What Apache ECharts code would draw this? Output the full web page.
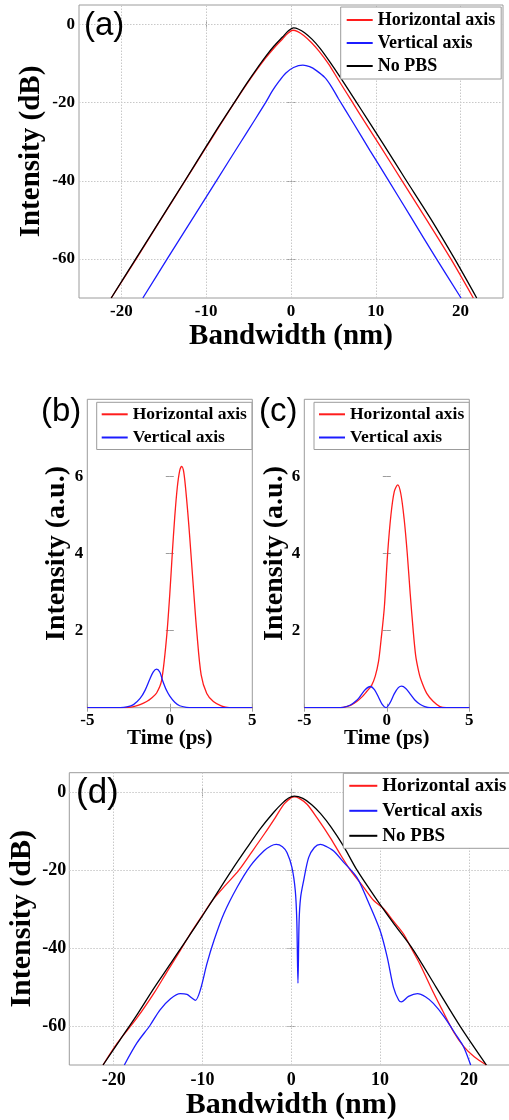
<!DOCTYPE html>
<html><head><meta charset="utf-8">
<script src="https://cdn.jsdelivr.net/npm/echarts@6/dist/echarts.min.js"></script>
<style>html,body{margin:0;padding:0;background:#fff}#c{width:509px;height:1120px}</style>
</head><body><div id="c"></div>
<script>
// ---------- data ----------
const seriesNames = ['Horizontal axis', 'Vertical axis', 'No PBS'];
const panelLabels = ['(a)', '(b)', '(c)', '(d)'];

// tick labels
const xTicksBW = [-20, -10, 0, 10, 20];
const yTicksDB = [-60, -40, -20, 0];
const xTicksT = [-5, 0, 5];
const yTicksI = [2, 4, 6];

// (a) spectra, dB vs nm
const aHX = [-21.2, -18.25, -15.5, -12.66, -10, -8.5, -6.73, -5.2, -4, -3, -2, -1, -0.4, 0.2, 0.8, 1.5, 2.4, 3.3, 4.4, 5.6, 7.07, 8.6, 10.6, 13.1, 16.0, 18.85, 21.5];
const aHY = [-70, -60, -50.4, -40.6, -31.4, -26.2, -20.2, -15.2, -11.5, -8.6, -6.0, -3.7, -2.3, -1.46, -1.8, -2.8, -4.6, -6.8, -10.0, -14.2, -19.3, -24.6, -31.4, -40, -50, -60, -70];
const aVX = [-17.47, -14.6, -11.7, -8.8, -5.9, -4.5, -3.0, -2.2, -1.4, -0.6, 0.3, 1.4, 2.2, 3.0, 4.0, 4.8, 5.6, 7.35, 9.3, 11.33, 14.2, 17.1, 20.05];
const aVY = [-70, -60, -50, -40, -30, -25.2, -20.0, -17.0, -14.5, -12.4, -11.0, -10.4, -10.8, -11.8, -13.6, -16.0, -19.0, -25.2, -32.2, -39.3, -49.5, -59.8, -70];
const aNX = [-21.2, -18.25, -15.5, -12.66, -10, -8.5, -6.73, -5.2, -4, -3, -2, -1, -0.3, 0.3, 0.9, 1.6, 2.5, 3.43, 4.5, 5.78, 7.54, 9.0, 11.0, 13.5, 16.5, 19.3, 21.9];
const aNY = [-70, -59.8, -50.3, -40.5, -31.2, -26.0, -20.1, -15.0, -11.2, -8.2, -5.5, -3.2, -1.6, -0.87, -1.2, -2.1, -3.8, -6.1, -9.3, -13.4, -19.3, -24.2, -31.0, -39.6, -49.8, -60, -70];

// (b) pulses, a.u. vs ps
const bHX = [-5, -3.0, -2.5, -2.2, -1.8, -1.4, -1.1, -0.8, -0.5, -0.2, 0.0, 0.15, 0.3, 0.45, 0.6, 0.72, 0.85, 1.0, 1.15, 1.28, 1.45, 1.63, 1.9, 2.24, 2.64, 3.15, 3.6, 5];
const bHY = [0, 0, 0.01, 0.03, 0.08, 0.16, 0.25, 0.38, 0.7, 1.8, 2.95, 4.0, 4.95, 5.7, 6.15, 6.26, 6.1, 5.5, 4.75, 4.0, 3.0, 2.0, 0.85, 0.37, 0.16, 0.04, 0, 0];
const bVX = [-5, -3.0, -2.6, -2.2, -1.8, -1.5, -1.2, -1.0, -0.8, -0.6, -0.45, -0.2, 0.0, 0.3, 0.6, 1.0, 1.4, 5];
const bVY = [0, 0, 0.02, 0.08, 0.24, 0.45, 0.75, 0.93, 1.0, 0.92, 0.72, 0.45, 0.3, 0.14, 0.05, 0.01, 0, 0];

// (c) pulses
const cHX = [-5, -3.0, -2.64, -2.2, -1.82, -1.5, -1.22, -0.92, -0.7, -0.5, -0.35, -0.15, 0.05, 0.25, 0.45, 0.66, 0.85, 1.05, 1.24, 1.42, 1.6, 1.75, 1.9, 2.05, 2.42, 2.82, 3.22, 3.6, 5];
const cHY = [0, 0, 0.01, 0.06, 0.16, 0.28, 0.42, 0.58, 0.82, 1.2, 1.75, 2.6, 4.0, 5.0, 5.6, 5.78, 5.55, 4.9, 4.0, 2.95, 2.0, 1.35, 1.0, 0.75, 0.37, 0.16, 0.03, 0, 0];
const cVX = [-5, -3.0, -2.64, -2.2, -1.8, -1.62, -1.3, -1.0, -0.75, -0.5, -0.3, -0.05, 0.2, 0.45, 0.7, 0.9, 1.15, 1.41, 1.7, 2.01, 2.3, 2.62, 5];
const cVY = [0, 0, 0.01, 0.07, 0.2, 0.29, 0.47, 0.55, 0.47, 0.27, 0.1, 0, 0.13, 0.36, 0.52, 0.56, 0.5, 0.36, 0.2, 0.09, 0.03, 0, 0];

// (d) spectra
const dHX = [-21.2, -19.6, -17.4, -15.5, -14.0, -12.5, -11.4, -9.9, -8.9, -7.3, -5.9, -4.5, -3.0, -1.8, -0.8, 0.0, 0.35, 0.9, 1.77, 2.9, 4.4, 5.5, 6.65, 8.15, 9.28, 10.4, 11.5, 12.65, 13.4, 14.5, 16.0, 17.0, 18.3, 19.4, 20.6, 21.97];
const dHY = [-70, -64.4, -58, -51.7, -46.1, -40.6, -36.4, -31.2, -27.8, -23.6, -20, -15.5, -10.6, -6.5, -3.0, -1.4, -1.2, -1.6, -3.1, -6.6, -11.7, -15.9, -20, -24.4, -27.8, -29.9, -33.1, -36.4, -39.6, -44.2, -51.4, -55.9, -61.6, -65.2, -67.9, -70];
const dVX = [-18.8, -17.4, -15.9, -14.8, -13.6, -12.5, -11.75, -11.2, -10.8, -10.25, -9.5, -8.7, -7.6, -6.1, -4.6, -3.1, -2.3, -1.69, -1.0, -0.49, 0.07, 0.45, 0.62, 0.75, 0.88, 1.05, 1.39, 1.95, 2.6, 3.27, 4.0, 4.77, 5.9, 7.4, 8.6, 10.0, 10.8, 11.5, 12.1, 12.4, 13.2, 14.2, 15.1, 16.0, 17.2, 18.7, 19.4, 20.2];
const dVY = [-70, -64.4, -59.8, -55.9, -53, -51.7, -51.9, -52.8, -53.4, -50.8, -44, -38, -31.2, -24.4, -18.9, -15.1, -13.8, -13.4, -14.0, -15.5, -19.3, -25.3, -33, -49, -33, -27, -22.7, -16.8, -14.2, -13.4, -14.0, -15.1, -18, -21.9, -27.8, -35.5, -42.3, -50, -53.4, -53.8, -52.4, -51.7, -52.5, -54.2, -57.6, -62.8, -65.3, -70];
const dNX = [-21.2, -19.3, -17.4, -15.5, -13.6, -12.1, -10.6, -8.9, -6.7, -5.0, -3.5, -2.0, -1.0, -0.3, 0.34, 1.3, 2.3, 3.3, 4.5, 5.9, 7.4, 9.7, 11.6, 13.6, 16.3, 19.0, 21.97];
const dNY = [-70, -63.6, -57.2, -50.4, -44, -38.9, -33.8, -27.8, -20, -14.3, -9.4, -5.2, -2.8, -1.5, -1.0, -1.6, -3.2, -5.5, -9.0, -13.9, -20, -27.8, -33.9, -40, -50, -60, -70];

// ---------- styling ----------
const SERIF = "'Liberation Serif','Times New Roman',serif";
const SANS = "'Liberation Sans',Arial,sans-serif";
const COLORS = { 'Horizontal axis': '#ff1c1c', 'Vertical axis': '#1c1cff', 'No PBS': '#000000' };
const FRAME = '#9c9c9c';
const GRIDLINE = '#c8c8c8';

const zip = (xs, ys) => xs.map((x, i) => [x, ys[i]]);

const gridBoxes = [
  { left: 79, top: 5, width: 424, height: 293 },
  { left: 87.3, top: 399.3, width: 165, height: 308.4 },
  { left: 304.3, top: 399.3, width: 165, height: 308.4 },
  { left: 69.3, top: 772.7, width: 444, height: 292.3 }
];

const axisSpecs = [
  { x: { min: -25, max: 25, interval: 5, ticks: xTicksBW, font: 17, margin: 5, name: 'Bandwidth (nm)', nameSize: 29, nameGap: 24, split: true },
    y: { min: -70, max: 5, interval: 5, ticks: yTicksDB, font: 17, margin: 4, name: 'Intensity (dB)', nameSize: 29, nameGap: 33, split: true } },
  { x: { min: -5, max: 5, interval: 5, ticks: xTicksT, font: 17, margin: 4, name: 'Time (ps)', nameSize: 21, nameGap: 20, split: false },
    y: { min: 0, max: 8, interval: 2, ticks: yTicksI, font: 17, margin: 4, name: 'Intensity (a.u.)', nameSize: 28, nameGap: 17, split: false } },
  { x: { min: -5, max: 5, interval: 5, ticks: xTicksT, font: 17, margin: 4, name: 'Time (ps)', nameSize: 21, nameGap: 20, split: false },
    y: { min: 0, max: 8, interval: 2, ticks: yTicksI, font: 17, margin: 4, name: 'Intensity (a.u.)', nameSize: 28, nameGap: 16, split: false } },
  { x: { min: -25, max: 25, interval: 5, ticks: xTicksBW, font: 18, margin: 6, name: 'Bandwidth (nm)', nameSize: 30, nameGap: 25, split: true },
    y: { min: -70, max: 5, interval: 5, ticks: yTicksDB, font: 18, margin: 3, name: 'Intensity (dB)', nameSize: 30, nameGap: 32, split: true } }
];

function makeAxis(spec, gi, position, primary) {
  const ax = {
    type: 'value', gridIndex: gi, position: position,
    min: spec.min, max: spec.max, interval: spec.interval,
    axisLine: { show: false },
    axisTick: { show: true, inside: true, length: 4, customValues: spec.ticks, lineStyle: { color: FRAME, width: 1 } },
    axisLabel: primary ? { show: true, customValues: spec.ticks, fontFamily: SERIF, fontWeight: 'bold', fontSize: spec.font, color: '#000', margin: spec.margin } : { show: false },
    splitLine: { show: false }
  };
  if (primary) {
    Object.assign(ax, {
      name: spec.name, nameLocation: 'middle', nameGap: spec.nameGap, nameMoveOverlap: false,
      nameTextStyle: { fontFamily: SERIF, fontWeight: 'bold', fontSize: spec.nameSize, color: '#000' }
    });
  }
  return ax;
}

const xAxes = [], yAxes = [];
axisSpecs.forEach((s, gi) => { xAxes.push(makeAxis(s.x, gi, 'bottom', true)); yAxes.push(makeAxis(s.y, gi, 'left', true)); });
axisSpecs.forEach((s, gi) => { xAxes.push(makeAxis(s.x, gi, 'top', false)); yAxes.push(makeAxis(s.y, gi, 'right', false)); });

const panelSeries = [
  [['Horizontal axis', aHX, aHY], ['Vertical axis', aVX, aVY], ['No PBS', aNX, aNY]],
  [['Horizontal axis', bHX, bHY], ['Vertical axis', bVX, bVY]],
  [['Horizontal axis', cHX, cHY], ['Vertical axis', cVX, cVY]],
  [['Horizontal axis', dHX, dHY], ['Vertical axis', dVX, dVY], ['No PBS', dNX, dNY]]
];

const series = [];
// dotted grid lines at the labelled ticks (panels a and d), drawn under the curves
axisSpecs.forEach((s, gi) => {
  if (!s.x.split) return;
  series.push({
    type: 'line', name: 'grid' + gi, xAxisIndex: gi, yAxisIndex: gi, data: [],
    z: 1, silent: true, animation: false,
    markLine: {
      silent: true, symbol: ['none', 'none'], label: { show: false }, animation: false, z: 1,
      emphasis: { disabled: true },
      lineStyle: { color: GRIDLINE, width: 1, type: [1.5, 1.5] },
      data: s.x.ticks.map(v => ({ xAxis: v })).concat(s.y.ticks.map(v => ({ yAxis: v })))
    }
  });
});
panelSeries.forEach((list, gi) => {
  list.forEach(([name, xs, ys]) => {
    series.push({
      type: 'line', name: name, xAxisIndex: gi, yAxisIndex: gi,
      data: zip(xs, ys), symbol: 'none', showSymbol: false, smooth: 0.3,
      color: COLORS[name], lineStyle: { color: COLORS[name], width: 1.3 },
      clip: true, animation: false, z: 3
    });
  });
});

function makeLegend(left, top, names, fontSize, itemWidth, itemGap, padding) {
  return {
    show: true, orient: 'vertical', left: left, top: top, data: names,
    icon: 'rect', itemWidth: itemWidth, itemHeight: 2, itemGap: itemGap,
    padding: padding, borderColor: FRAME, borderWidth: 1, backgroundColor: '#ffffff',
    selectedMode: false, z: 10,
    textStyle: { fontFamily: SERIF, fontWeight: 'bold', fontSize: fontSize, color: '#000' }
  };
}

const legends = [
  makeLegend(340.7, 7, seriesNames, 18, 26, 5, [4, 6, 4, 6]),
  makeLegend(96.7, 402.3, seriesNames.slice(0, 2), 17.5, 26, 5.2, [3, 5, 3, 5]),
  makeLegend(314, 402.3, seriesNames.slice(0, 2), 17.5, 26, 5.2, [3, 5, 3, 5]),
  makeLegend(343.3, 773.3, seriesNames, 19, 28, 6, [3, 6, 3, 6])
];

const labelPos = [[84, 9, 33], [41, 395.5, 33], [259, 395.5, 33], [76, 776, 35]];
const graphics = panelLabels.map((t, i) => ({
  type: 'text', left: labelPos[i][0], top: labelPos[i][1], z: 20,
  style: { text: t, fontFamily: SANS, fontSize: labelPos[i][2], fill: '#000' }
}));

const chart = echarts.init(document.getElementById('c'), null, { renderer: 'canvas' });
chart.setOption({
  animation: false,
  backgroundColor: '#ffffff',
  grid: gridBoxes.map(g => Object.assign({ show: true, borderColor: FRAME, borderWidth: 1, backgroundColor: 'transparent', containLabel: false, outerBoundsMode: 'none' }, g)),
  xAxis: xAxes,
  yAxis: yAxes,
  legend: legends,
  series: series,
  graphic: graphics
});
</script>
</body></html>
